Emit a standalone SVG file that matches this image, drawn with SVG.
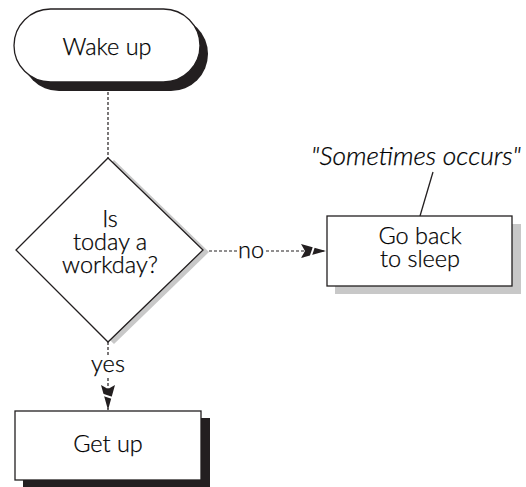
<svg xmlns="http://www.w3.org/2000/svg" width="526" height="487" viewBox="0 0 526 487">
  <style>
    .lbl { font-family: Lato, "Open Sans", "Liberation Sans", sans-serif; font-size: 23.5px; font-weight: 300; fill: #000000; stroke: #000000; stroke-width: 0.25; text-anchor: middle; }
    .note { font-style: italic; font-size: 25px; }
    .shape { fill: #ffffff; stroke: #231f20; stroke-width: 1.3; }
    .shadow-dark { fill: #231f20; }
    .shadow-light { fill: #c8c8c8; }
    .flow { fill: none; stroke: #231f20; stroke-width: 1.2; stroke-dasharray: 3 2; }
    .callout { fill: none; stroke: #231f20; stroke-width: 1.3; }
  </style>
  <defs>
    <!-- feathered arrowhead: solid wedge with a white slash -->
    <marker id="head" viewBox="-26 -8 28 16" refX="0" refY="0" markerWidth="28" markerHeight="16" markerUnits="userSpaceOnUse" orient="auto">
      <path d="M -25 -7 L 0 0 L -25 7 L -21 0 Z" fill="#231f20"/>
      <path d="M -16 7.5 L -11 -7.5" stroke="#ffffff" stroke-width="2"/>
    </marker>
  </defs>

  <!-- connectors -->
  <g id="connectors">
    <path class="flow" d="M 108 92 L 108 158"/>
    <path class="flow" d="M 108 342 L 108 356"/>
    <path class="flow" d="M 108 378 L 108 410" marker-end="url(#head)"/>
    <path class="flow" d="M 204 251 L 237 251"/>
    <path class="flow" d="M 266 251 L 326 251" marker-end="url(#head)"/>
    <path class="callout" d="M 433 172 L 420 216"/>
    <text class="lbl" x="251" y="258">no</text>
    <text class="lbl" x="108" y="372">yes</text>
  </g>

  <g id="wake-up">
    <rect class="shadow-dark" x="22" y="17" width="186" height="74" rx="37" ry="37"/>
    <rect class="shape" x="14" y="9" width="186" height="73" rx="36.5" ry="36.5"/>
    <text class="lbl" x="107" y="55">Wake up</text>
  </g>

  <g id="workday">
    <polygon class="shadow-light" points="114,160 209,252 114,344 19,252"/>
    <polygon class="shape" points="108,158 203,250 108,342 16,250"/>
    <text class="lbl" x="110" y="227">Is</text>
    <text class="lbl" x="110" y="250">today a</text>
    <text class="lbl" x="110" y="273">workday?</text>
  </g>

  <g id="go-back">
    <rect class="shadow-light" x="335" y="224" width="186" height="70"/>
    <rect class="shape" x="327" y="216" width="185" height="70"/>
    <text class="lbl" x="420" y="244">Go back</text>
    <text class="lbl" x="420" y="267">to sleep</text>
  </g>

  <g id="note">
    <text class="lbl note" x="416" y="165" textLength="210" lengthAdjust="spacingAndGlyphs">"Sometimes occurs"</text>
  </g>

  <g id="get-up">
    <rect class="shadow-dark" x="23" y="418" width="187" height="69"/>
    <rect class="shape" x="15" y="411" width="186" height="69"/>
    <text class="lbl" x="108" y="452">Get up</text>
  </g>
</svg>
